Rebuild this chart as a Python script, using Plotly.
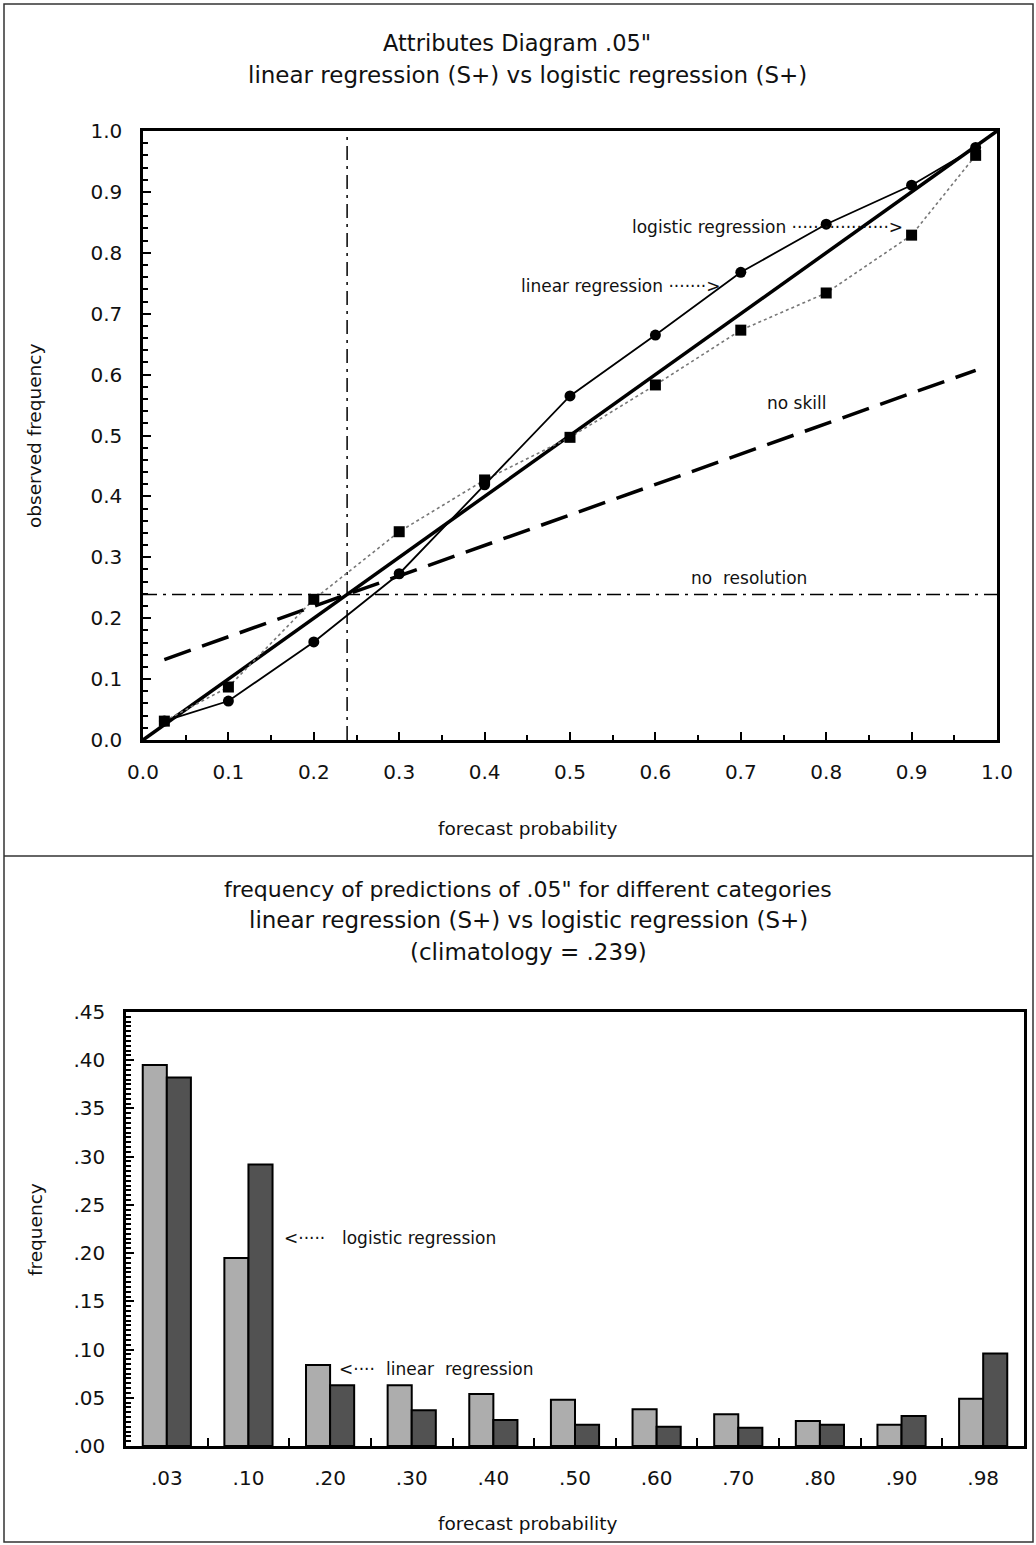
import plotly.graph_objects as go

# ---------------- data ----------------
forecast_prob = [0.025, 0.1, 0.2, 0.3, 0.4, 0.5, 0.6, 0.7, 0.8, 0.9, 0.975]
linear_obs = [0.031, 0.064, 0.161, 0.273, 0.419, 0.565, 0.665, 0.768, 0.847, 0.911, 0.973]
logistic_obs = [0.031, 0.087, 0.231, 0.342, 0.427, 0.497, 0.583, 0.673, 0.734, 0.829, 0.960]
climatology = 0.239
perfect_x = [0.0, 1.0]
perfect_y = [0.0, 1.0]
noskill_x = [0.025, 0.975]
noskill_y = [0.132, 0.607]

categories = [".03", ".10", ".20", ".30", ".40", ".50", ".60", ".70", ".80", ".90", ".98"]
linear_freq = [0.395, 0.195, 0.084, 0.063, 0.054, 0.048, 0.038, 0.033, 0.026, 0.022, 0.049]
logistic_freq = [0.382, 0.292, 0.063, 0.037, 0.027, 0.022, 0.020, 0.019, 0.022, 0.031, 0.096]
freq_tickvals = [0.0, 0.05, 0.10, 0.15, 0.20, 0.25, 0.30, 0.35, 0.40, 0.45]
freq_ticktext = [".00", ".05", ".10", ".15", ".20", ".25", ".30", ".35", ".40", ".45"]

# ---------------- layout helpers ----------------
W, H = 1036, 1545
FONT = "DejaVu Sans"
def px(x):
    return x / W
def py(y):
    return 1 - y / H

fig = go.Figure()

# top panel traces
fig.add_trace(go.Scatter(x=perfect_x, y=perfect_y, mode="lines",
                         line=dict(color="black", width=3.5), xaxis="x", yaxis="y", hoverinfo="skip"))
fig.add_trace(go.Scatter(x=noskill_x, y=noskill_y, mode="lines",
                         line=dict(color="black", width=3.5, dash="28px,12px"), xaxis="x", yaxis="y"))
fig.add_trace(go.Scatter(x=[0, 1], y=[climatology, climatology], mode="lines",
                         line=dict(color="black", width=1.5, dash="14px,6px,3px,6px"), xaxis="x", yaxis="y"))
fig.add_trace(go.Scatter(x=[climatology, climatology], y=[0, 1], mode="lines",
                         line=dict(color="black", width=1.5, dash="14px,6px,3px,6px"), xaxis="x", yaxis="y"))
fig.add_trace(go.Scatter(x=forecast_prob, y=logistic_obs, mode="lines+markers",
                         line=dict(color="#777777", width=1.6, dash="dot"),
                         marker=dict(symbol="square", size=11, color="black"),
                         xaxis="x", yaxis="y"))
fig.add_trace(go.Scatter(x=forecast_prob, y=linear_obs, mode="lines+markers",
                         line=dict(color="black", width=1.8),
                         marker=dict(symbol="circle", size=11, color="black"),
                         xaxis="x", yaxis="y"))

# bottom panel bars
fig.add_trace(go.Bar(x=categories, y=linear_freq, xaxis="x2", yaxis="y2",
                     marker=dict(color="#adadad", line=dict(color="black", width=2))))
fig.add_trace(go.Bar(x=categories, y=logistic_freq, xaxis="x2", yaxis="y2",
                     marker=dict(color="#525252", line=dict(color="black", width=2))))

axis_common = dict(showline=True, linewidth=2.5, linecolor="black", mirror=True,
                   showgrid=False, zeroline=False, ticks="inside", ticklen=8,
                   tickwidth=2, tickcolor="black",
                   tickfont=dict(family=FONT, size=20, color="#111"))

fig.update_layout(
    width=W, height=H,
    margin=dict(l=0, r=0, t=0, b=0, pad=0, autoexpand=False),
    paper_bgcolor="white", plot_bgcolor="white",
    showlegend=False,
    barmode="group", bargap=0.41, bargroupgap=0,
    xaxis=dict(domain=[px(143), px(997)], range=[0, 1], dtick=0.1, tick0=0,
               tickformat=".1f", anchor="y", ticklabelstandoff=12,
               minor=dict(dtick=0.05, ticks="inside", ticklen=5, tickwidth=1.5, tickcolor="black"),
               **axis_common),
    yaxis=dict(domain=[py(740), py(131)], range=[0, 1], dtick=0.1, tick0=0,
               tickformat=".1f", anchor="x", ticklabelstandoff=14,
               minor=dict(dtick=0.02, ticks="inside", ticklen=5, tickwidth=1.5, tickcolor="black"),
               **axis_common),
    xaxis2=dict(domain=[px(126), px(1024)], type="category", categoryorder="array",
                categoryarray=categories, tickson="boundaries", anchor="y2",
                ticklabelstandoff=12, **axis_common),
    yaxis2=dict(domain=[py(1446), py(1012)], range=[0, 0.45], tickvals=freq_tickvals,
                ticktext=freq_ticktext, anchor="x2", ticklabelstandoff=14,
                minor=dict(dtick=0.005, ticks="inside", ticklen=5, tickwidth=1.5, tickcolor="black"),
                **axis_common),
)

def note(text, x, y, size=17, xanchor="center", angle=0):
    fig.add_annotation(text=text, x=px(x), y=py(y), xref="paper", yref="paper",
                       showarrow=False, xanchor=xanchor, yanchor="middle", textangle=angle,
                       font=dict(family=FONT, size=size, color="#111"))

# titles
note("Attributes Diagram .05\"", 517, 43, size=22.5)
note("linear regression (S+) vs logistic regression (S+)", 527, 75, size=23)
note("frequency of predictions of .05\" for different categories", 528, 889, size=22)
note("linear regression (S+) vs logistic regression (S+)", 528, 920, size=23)
note("(climatology = .239)", 528, 952, size=23)

# axis titles
note("forecast probability", 527, 829, size=18.5)
note("observed frequency", 35, 436, size=18.5, angle=-90)
note("forecast probability", 527, 1523, size=18.5)
note("frequency", 35, 1230, size=18.5, angle=-90)

# in-plot labels
note("logistic regression ··················>", 630, 227, xanchor="left")
note("linear regression ·······>", 519, 286, xanchor="left")
note("no skill", 796, 403)
note("no\u00a0\u00a0resolution", 749, 578)
note("<·····", 282, 1238, xanchor="left")
note("logistic regression", 340, 1238, xanchor="left")
note("<····", 337, 1369, xanchor="left")
note("linear\u00a0\u00a0regression", 384, 1369, xanchor="left")

# outer frame and divider
fig.add_shape(type="rect", xref="paper", yref="paper", x0=px(4), x1=px(1033), y0=py(1542), y1=py(4),
              line=dict(color="#333", width=1.5))
fig.add_shape(type="line", xref="paper", yref="paper", x0=px(4), x1=px(1033), y0=py(856), y1=py(856),
              line=dict(color="#333", width=1.5))

fig.write_html("out.html", config={"displayModeBar": False},
               post_script="document.body.style.margin='0';document.body.style.overflow='hidden';")
